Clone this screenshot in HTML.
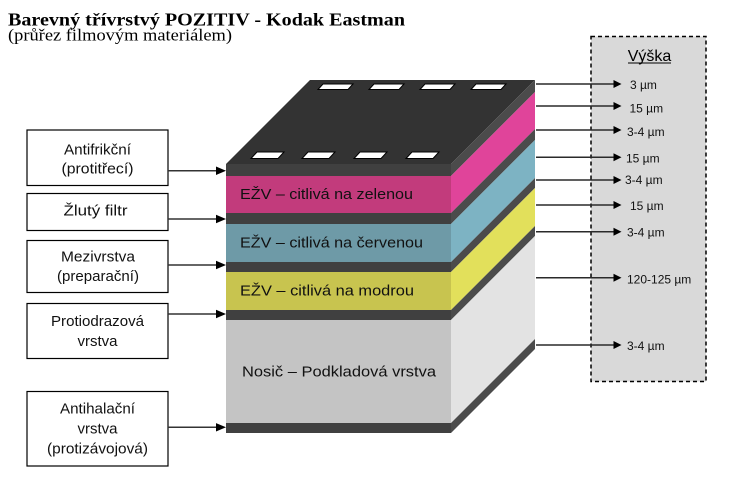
<!DOCTYPE html>
<html><head><meta charset="utf-8"><style>
html,body{margin:0;padding:0;background:#fff;}
svg{display:block;}
</style></head><body>
<svg width="751" height="477" viewBox="0 0 751 477" xmlns="http://www.w3.org/2000/svg">
<rect width="751" height="477" fill="#fff"/>
<!-- Title -->
<text x="8" y="25.5" font-family="Liberation Serif, serif" font-weight="bold" font-size="18" textLength="397" lengthAdjust="spacingAndGlyphs" fill="#000">Barevný třívrstvý POZITIV - Kodak Eastman</text>
<text x="8" y="40.5" font-family="Liberation Serif, serif" font-size="17" textLength="224" lengthAdjust="spacingAndGlyphs" fill="#000">(průřez filmovým materiálem)</text>

<!-- Right panel -->
<rect x="591" y="36.5" width="115" height="345" fill="#D9D9D9" stroke="#000" stroke-width="1.5" stroke-dasharray="4,3"/>
<text x="649.5" y="61" font-family="Liberation Sans, sans-serif" font-size="16" text-anchor="middle" fill="#000">Výška</text>
<line x1="628" y1="63" x2="671" y2="63" stroke="#000" stroke-width="1"/>

<!-- Cube top -->
<polygon points="226,164 310,80 535,80 451,164" fill="#333333"/>
<!-- sprocket holes -->
<g fill="#fff" stroke="#000" stroke-width="1">
<polygon points="323,84 353,84 348,89.5 318,89.5"/>
<polygon points="374,84 404,84 399,89.5 369,89.5"/>
<polygon points="425,84 455,84 450,89.5 420,89.5"/>
<polygon points="476,84 506,84 501,89.5 471,89.5"/>
<polygon points="257,152 284,152 278,158.5 251,158.5"/>
<polygon points="308,152 335,152 329,158.5 302,158.5"/>
<polygon points="360,152 387,152 381,158.5 354,158.5"/>
<polygon points="412,152 439,152 433,158.5 406,158.5"/>
</g>

<!-- Front bands -->
<rect x="226" y="164" width="225" height="12" fill="#404040"/>
<rect x="226" y="176" width="225" height="37" fill="#C23B7C"/>
<rect x="226" y="213" width="225" height="11" fill="#404040"/>
<rect x="226" y="224" width="225" height="38" fill="#6E9AA7"/>
<rect x="226" y="262" width="225" height="10" fill="#404040"/>
<rect x="226" y="272" width="225" height="38" fill="#C8C44F"/>
<rect x="226" y="310" width="225" height="10" fill="#404040"/>
<rect x="226" y="320" width="225" height="103" fill="#C4C4C4"/>
<rect x="226" y="423" width="225" height="10" fill="#404040"/>

<!-- Side bands -->
<polygon points="451,164 535,80 535,92 451,176" fill="#4B4B4B"/>
<polygon points="451,176 535,92 535,129 451,213" fill="#E0449A"/>
<polygon points="451,213 535,129 535,140 451,224" fill="#4B4B4B"/>
<polygon points="451,224 535,140 535,178 451,262" fill="#7DB3C3"/>
<polygon points="451,262 535,178 535,188 451,272" fill="#4B4B4B"/>
<polygon points="451,272 535,188 535,226 451,310" fill="#E2E05B"/>
<polygon points="451,310 535,226 535,236 451,320" fill="#4B4B4B"/>
<polygon points="451,320 535,236 535,339 451,423" fill="#E3E3E3"/>
<polygon points="451,423 535,339 535,349 451,433" fill="#4B4B4B"/>

<!-- Front labels -->
<g font-family="Liberation Sans, sans-serif" font-size="15" fill="#111">
<text x="240" y="199" textLength="173" lengthAdjust="spacingAndGlyphs">EŽV – citlivá na zelenou</text>
<text x="240" y="247.5" textLength="183" lengthAdjust="spacingAndGlyphs">EŽV – citlivá na červenou</text>
<text x="240" y="295.5" textLength="174" lengthAdjust="spacingAndGlyphs">EŽV – citlivá na modrou</text>
<text x="242" y="376.5" textLength="194" lengthAdjust="spacingAndGlyphs">Nosič – Podkladová vrstva</text>
</g>

<!-- Left boxes -->
<g fill="#fff" stroke="#000" stroke-width="1.2">
<rect x="27" y="130" width="141" height="55.5"/>
<rect x="27" y="193.5" width="141" height="37"/>
<rect x="27" y="240.5" width="141" height="52"/>
<rect x="27" y="303.5" width="141" height="55"/>
<rect x="27" y="391.5" width="141" height="74.5"/>
</g>
<g font-family="Liberation Sans, sans-serif" font-size="14.5" fill="#111" text-anchor="middle">
<text x="97.5" y="154.3" textLength="67" lengthAdjust="spacingAndGlyphs">Antifrikční</text>
<text x="97.5" y="173.5" textLength="72" lengthAdjust="spacingAndGlyphs">(protitřecí)</text>
<text x="95.5" y="215.5" textLength="64" lengthAdjust="spacingAndGlyphs">Žlutý filtr</text>
<text x="98" y="261.7" textLength="74" lengthAdjust="spacingAndGlyphs">Mezivrstva</text>
<text x="98" y="281" textLength="82" lengthAdjust="spacingAndGlyphs">(preparační)</text>
<text x="97.5" y="326" textLength="93" lengthAdjust="spacingAndGlyphs">Protiodrazová</text>
<text x="97.5" y="346" textLength="40" lengthAdjust="spacingAndGlyphs">vrstva</text>
<text x="97.5" y="413.3" textLength="75" lengthAdjust="spacingAndGlyphs">Antihalační</text>
<text x="97.5" y="433.3" textLength="40" lengthAdjust="spacingAndGlyphs">vrstva</text>
<text x="97.5" y="453.3" textLength="101" lengthAdjust="spacingAndGlyphs">(protizávojová)</text>
</g>

<!-- Left arrows -->
<g stroke="#333" stroke-width="1.5">
<line x1="168" y1="170.7" x2="217" y2="170.7"/>
<line x1="168" y1="219" x2="217" y2="219"/>
<line x1="168" y1="265" x2="217" y2="265"/>
<line x1="168" y1="314" x2="217" y2="314"/>
<line x1="168" y1="427.3" x2="217" y2="427.3"/>
</g>
<g fill="#000">
<polygon points="216,166.5 226,170.7 216,175"/>
<polygon points="216,214.8 226,219 216,223.2"/>
<polygon points="216,260.8 226,265 216,269.2"/>
<polygon points="216,309.8 226,314 216,318.2"/>
<polygon points="216,423.1 226,427.3 216,431.5"/>
</g>

<!-- Right arrows -->
<g stroke="#2a2a2a" stroke-width="1.5">
<line x1="536" y1="84" x2="614" y2="84"/>
<line x1="536" y1="106" x2="614" y2="106"/>
<line x1="536" y1="130" x2="614" y2="130"/>
<line x1="536" y1="157.3" x2="614" y2="157.3"/>
<line x1="536" y1="180" x2="614" y2="180"/>
<line x1="536" y1="205" x2="614" y2="205"/>
<line x1="536" y1="231.7" x2="614" y2="231.7"/>
<line x1="536" y1="277.7" x2="614" y2="277.7"/>
<line x1="536" y1="345" x2="614" y2="345"/>
</g>
<g fill="#000">
<polygon points="613.5,80 621.5,84 613.5,88"/>
<polygon points="613.5,102 621.5,106 613.5,110"/>
<polygon points="613.5,126 621.5,130 613.5,134"/>
<polygon points="613.5,153.3 621.5,157.3 613.5,161.3"/>
<polygon points="613.5,176 621.5,180 613.5,184"/>
<polygon points="613.5,201 621.5,205 613.5,209"/>
<polygon points="613.5,227.7 621.5,231.7 613.5,235.7"/>
<polygon points="613.5,273.7 621.5,277.7 613.5,281.7"/>
<polygon points="613.5,341 621.5,345 613.5,349"/>
</g>
<g font-family="Liberation Sans, sans-serif" font-size="12" fill="#111">
<text x="630" y="89">3 µm</text>
<text x="629.5" y="112.5">15 µm</text>
<text x="627" y="136">3-4 µm</text>
<text x="626" y="162.5">15 µm</text>
<text x="625" y="184">3-4 µm</text>
<text x="630" y="210">15 µm</text>
<text x="627" y="236.5">3-4 µm</text>
<text x="627" y="283.3">120-125 µm</text>
<text x="627" y="350">3-4 µm</text>
</g>
</svg>
</body></html>
